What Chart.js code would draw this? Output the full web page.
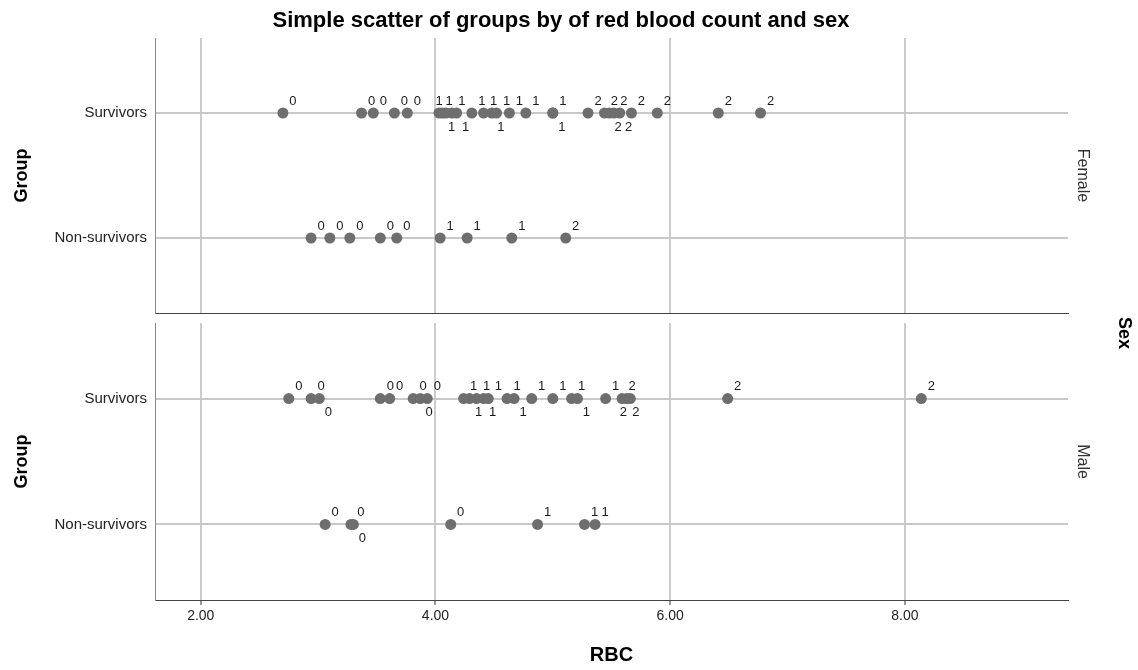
<!DOCTYPE html>
<html>
<head>
<meta charset="utf-8">
<title>RBC by group and sex</title>
<script src="https://cdn.jsdelivr.net/npm/chart.js@4.4.1/dist/chart.umd.min.js"></script>
<style>
  html, body { margin: 0; padding: 0; background: #fff; }
  #wrap { position: relative; width: 1138px; height: 670px; }
  .panel { position: absolute; left: 0; top: 0; width: 1138px; height: 670px; }
</style>
</head>
<body>
<div id="wrap">
  <div class="panel"><canvas id="maleChart"></canvas></div>
  <div class="panel"><canvas id="femaleChart"></canvas></div>
</div>
<script>
// y = 0 / 1 rows
const groups = ['Non-survivors', 'Survivors'];
const xTicks = [2, 4, 6, 8];

// Female
const femaleSurvRBC = [2.70, 3.37, 3.47, 3.65, 3.76, 4.03, 4.06, 4.09, 4.14, 4.18, 4.31, 4.41, 4.48,
                       4.52, 4.63, 4.77, 5.00, 5.00, 5.30, 5.44, 5.48, 5.52, 5.57, 5.67, 5.89, 6.41, 6.77];
const femaleSurvCat = [0, 0, 0, 0, 0, 1, 1, 1, 1, 1, 1, 1, 1,
                       1, 1, 1, 1, 1, 2, 2, 2, 2, 2, 2, 2, 2, 2];
const femaleNonRBC = [2.94, 3.10, 3.27, 3.53, 3.67, 4.04, 4.27, 4.65, 5.11];
const femaleNonCat = [0, 0, 0, 0, 0, 1, 1, 1, 2];

// Male
const maleSurvRBC = [2.75, 2.94, 3.01, 3.53, 3.61, 3.81, 3.87, 3.93, 4.24, 4.29, 4.35, 4.41, 4.45,
                     4.61, 4.67, 4.82, 5.00, 5.16, 5.21, 5.45, 5.59, 5.63, 5.66, 6.49, 8.14];
const maleSurvCat = [0, 0, 0, 0, 0, 0, 0, 0, 1, 1, 1, 1, 1,
                     1, 1, 1, 1, 1, 1, 1, 2, 2, 2, 2, 2];
const maleNonRBC = [3.06, 3.28, 3.30, 4.13, 4.87, 5.27, 5.36];
const maleNonCat = [0, 0, 0, 0, 1, 1, 1];

const FONT = 'Arial, "Liberation Sans", sans-serif';
Chart.defaults.font.family = FONT;
Chart.defaults.color = '#222';

// label offsets tried in order: upper right, lower right, above, below, left, further below
const spots = [[10, -12], [9, 14], [-2, -12], [-1, 14], [-7, -12], [-7, 14], [0, 29]];

const pointLabels = {
  id: 'pointLabels',
  afterDatasetsDraw(chart) {
    const ctx = chart.ctx;
    const ds = chart.data.datasets[0];
    const meta = chart.getDatasetMeta(0);
    const rows = {};
    meta.data.forEach((el, i) => {
      const d = ds.data[i];
      (rows[d.y] = rows[d.y] || []).push({ x: el.x, y: el.y, text: String(d.cat) });
    });
    ctx.save();
    ctx.font = '13px ' + FONT;
    ctx.fillStyle = '#1a1a1a';
    ctx.textAlign = 'center';
    ctx.textBaseline = 'middle';
    Object.values(rows).forEach(row => {
      row.sort((a, b) => a.x - b.x);
      const placed = [];
      row.forEach(p => {
        let spot = spots.find(([dx, dy]) =>
          !placed.some(q => Math.abs(q.x - (p.x + dx)) < 8.5 && Math.abs(q.y - (p.y + dy)) < 12));
        if (!spot) spot = spots[0];
        const lx = p.x + spot[0], ly = p.y + spot[1];
        placed.push({ x: lx, y: ly });
        ctx.fillText(p.text, lx, ly);
      });
    });
    ctx.restore();
  }
};

// title and facet strip text
const panelText = {
  id: 'panelText',
  afterDraw(chart, args, opts) {
    const { ctx, chartArea } = chart;
    ctx.save();
    ctx.fillStyle = '#000';
    ctx.textAlign = 'center';
    ctx.textBaseline = 'middle';
    if (opts.title) {
      ctx.font = 'bold 22px ' + FONT;
      ctx.fillText(opts.title, 561, 21);
    }
    const rotated = (text, x, y, font, color) => {
      ctx.save();
      ctx.translate(x, y);
      ctx.rotate(Math.PI / 2);
      ctx.font = font;
      ctx.fillStyle = color;
      ctx.fillText(text, 0, 0);
      ctx.restore();
    };
    rotated(opts.strip, 1082, (chartArea.top + chartArea.bottom) / 2, '16px ' + FONT, '#333');
    if (opts.facetTitle) rotated(opts.facetTitle, 1124, 333, 'bold 18px ' + FONT, '#000');
    ctx.restore();
  }
};

function rowPoints(rbc, cat, y) {
  return rbc.map((v, i) => ({ x: v, y: y, cat: cat[i] }));
}

function makePanel(id, survRBC, survCat, nonRBC, nonCat, isBottom, textOpts) {
  const data = rowPoints(survRBC, survCat, 1).concat(rowPoints(nonRBC, nonCat, 0));
  return new Chart(document.getElementById(id), {
    type: 'scatter',
    data: {
      datasets: [{
        data: data,
        pointRadius: 5.5,
        pointHoverRadius: 5.5,
        pointBackgroundColor: '#6e6e6e',
        pointBorderWidth: 0
      }]
    },
    options: {
      responsive: true,
      maintainAspectRatio: false,
      animation: false,
      events: [],
      layout: {
        padding: isBottom ? { top: 323, bottom: 0, left: 0, right: 70 }
                          : { top: 38, bottom: 357, left: 0, right: 70 }
      },
      plugins: {
        legend: { display: false },
        tooltip: { enabled: false },
        panelText: textOpts
      },
      scales: {
        x: {
          type: 'linear',
          min: 1.61,
          max: 9.39,
          afterBuildTicks: s => { s.ticks = xTicks.map(v => ({ value: v })); },
          afterFit: s => { s.height = isBottom ? 70 : 0; },
          ticks: {
            display: isBottom,
            font: { size: 14 },
            color: '#222',
            padding: 3,
            callback: v => Number(v).toFixed(2)
          },
          grid: { color: '#cccccc', lineWidth: 2, drawTicks: isBottom, tickLength: 5, tickColor: '#999' },
          border: { color: '#444', width: 1 },
          title: {
            display: isBottom,
            text: 'RBC',
            font: { size: 20, weight: 'bold' },
            color: '#000',
            padding: { top: 0, bottom: 3 }
          }
        },
        y: {
          type: 'linear',
          min: -0.6,
          max: 1.6,
          afterBuildTicks: s => { s.ticks = [{ value: 0 }, { value: 1 }]; },
          afterFit: s => { s.width = 155; },
          ticks: {
            font: { size: 15 },
            color: '#222',
            padding: 8,
            callback: v => groups[v]
          },
          grid: { color: '#c8c8c8', lineWidth: 2, drawTicks: false },
          border: { color: '#8a8a8a', width: 1 },
          title: {
            display: true,
            text: 'Group',
            font: { size: 18, weight: 'bold' },
            color: '#000',
            padding: { top: 11, bottom: 0 }
          }
        }
      }
    },
    plugins: [pointLabels, panelText]
  });
}

makePanel('femaleChart', femaleSurvRBC, femaleSurvCat, femaleNonRBC, femaleNonCat, false,
  { title: 'Simple scatter of groups by of red blood count and sex', strip: 'Female' });
makePanel('maleChart', maleSurvRBC, maleSurvCat, maleNonRBC, maleNonCat, true,
  { strip: 'Male', facetTitle: 'Sex' });
</script>
</body>
</html>
